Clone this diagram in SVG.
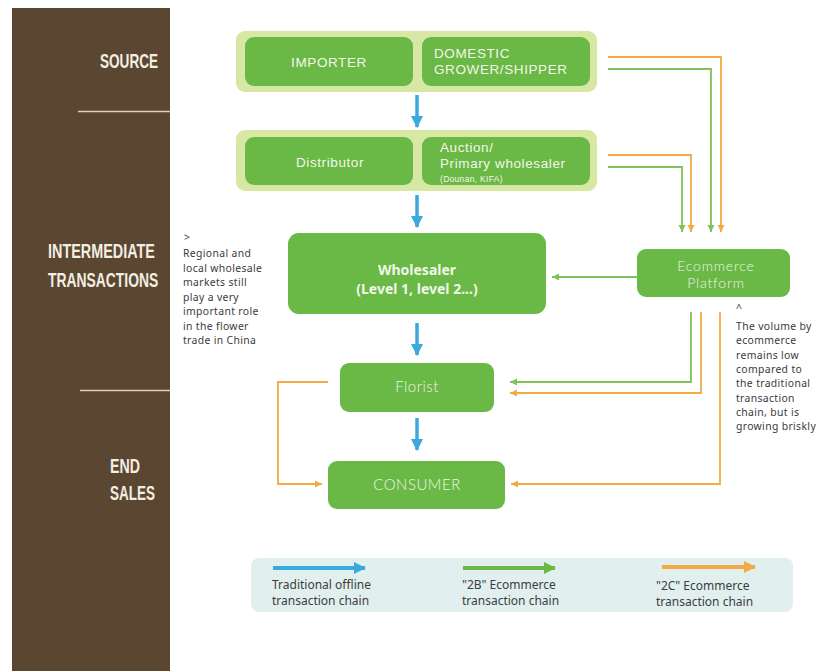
<svg xmlns="http://www.w3.org/2000/svg" width="832" height="671" viewBox="0 0 832 671">
<defs>
<style>
.hdr{font-family:"Liberation Sans",Arial,sans-serif;font-size:21px;font-weight:bold;fill:#f3eee2}
.box{fill:#6ab845}
.outer{fill:#d6e8a4}
.bt{font-family:"Noto Sans","Open Sans",sans-serif;font-size:13.5px;fill:#f2f7ea}
.bt2{font-family:"Liberation Sans",Arial,sans-serif;font-size:13.5px;letter-spacing:0.6px;fill:#f2f7ea}
.lt{font-family:Lato,"Open Sans",sans-serif;font-weight:300;font-size:15px;letter-spacing:0.5px;fill:#eef6e6}
.note{font-family:"Noto Sans","Open Sans",sans-serif;font-size:10.4px;letter-spacing:0.35px;fill:#3a3a3a}
.leg{font-family:"Noto Sans","Open Sans",sans-serif;font-size:12px;fill:#3d3d3d}
.blue{stroke:#3aa9dd;stroke-width:3.5;fill:none}
.grn{stroke:#82c05a;stroke-width:1.8;fill:none}
.org{stroke:#f2aa45;stroke-width:1.8;fill:none}
</style>
<marker id="mb" markerUnits="userSpaceOnUse" markerWidth="14" markerHeight="14" refX="11" refY="7" orient="auto"><path d="M0,1 L12,7 L0,13 z" fill="#3aa9dd"/></marker>
<marker id="mg" markerUnits="userSpaceOnUse" markerWidth="8" markerHeight="8" refX="7" refY="4" orient="auto"><path d="M0,0.5 L7,4 L0,7.5 z" fill="#82c05a"/></marker>
<marker id="mo" markerUnits="userSpaceOnUse" markerWidth="8" markerHeight="8" refX="7" refY="4" orient="auto"><path d="M0,0.5 L7,4 L0,7.5 z" fill="#f2aa45"/></marker>
<marker id="mgL" markerUnits="userSpaceOnUse" markerWidth="14" markerHeight="14" refX="11" refY="7" orient="auto"><path d="M0,1 L12,7 L0,13 z" fill="#6ab845"/></marker>
<marker id="moL" markerUnits="userSpaceOnUse" markerWidth="14" markerHeight="14" refX="11" refY="7" orient="auto"><path d="M0,1 L12,7 L0,13 z" fill="#f2aa45"/></marker>
</defs>
<rect width="832" height="671" fill="#ffffff"/>
<g id="sidebar">
<rect x="12" y="8" width="158" height="663" fill="#5b4632"/>
<line x1="78" y1="111.5" x2="170" y2="111.5" stroke="#d9d2c4" stroke-width="1.5"/>
<line x1="80" y1="390.5" x2="170" y2="390.5" stroke="#d9d2c4" stroke-width="1.5"/>
<text class="hdr" transform="translate(100,68) scale(0.66,1)" x="0" y="0" textLength="88" lengthAdjust="spacingAndGlyphs">SOURCE</text>
<text class="hdr" transform="translate(48,258) scale(0.66,1)" x="0" y="0" textLength="162" lengthAdjust="spacingAndGlyphs">INTERMEDIATE</text>
<text class="hdr" transform="translate(48,287) scale(0.66,1)" x="0" y="0" textLength="167" lengthAdjust="spacingAndGlyphs">TRANSACTIONS</text>
<text class="hdr" transform="translate(110,473) scale(0.66,1)" x="0" y="0" textLength="45.5" lengthAdjust="spacingAndGlyphs">END</text>
<text class="hdr" transform="translate(110,500) scale(0.66,1)" x="0" y="0" textLength="68" lengthAdjust="spacingAndGlyphs">SALES</text>
</g>
<g id="source-group">
<rect class="outer" x="236" y="31" width="361" height="61" rx="9"/>
</g>
<g id="importer">
<rect class="box" x="245" y="37" width="168" height="49" rx="9"/>
<text class="bt2" x="329" y="67" text-anchor="middle">IMPORTER</text>
</g>
<g id="domestic">
<rect class="box" x="422" y="37" width="168" height="49" rx="9"/>
<text class="bt2"><tspan x="434" y="58">DOMESTIC</tspan><tspan x="434" y="74">GROWER/SHIPPER</tspan></text>
</g>
<g id="mid-group">
<rect class="outer" x="236" y="130" width="361" height="61" rx="9"/>
</g>
<g id="distributor">
<rect class="box" x="245" y="137" width="168" height="48" rx="9"/>
<text class="bt2" x="330" y="167" text-anchor="middle">Distributor</text>
</g>
<g id="auction">
<rect class="box" x="422" y="137" width="168" height="48" rx="9"/>
<text class="bt2"><tspan x="440" y="152">Auction/</tspan><tspan x="440" y="168">Primary wholesaler</tspan><tspan x="440" y="182" style="font-size:8.5px;letter-spacing:0.3px">(Dounan, KIFA)</tspan></text>
</g>
<g id="wholesaler">
<rect class="box" x="288" y="233" width="258" height="81" rx="11"/>
<text class="bt" text-anchor="middle" style="font-weight:bold;font-size:14px"><tspan x="417" y="275">Wholesaler</tspan><tspan x="417" y="294">(Level 1, level 2...)</tspan></text>
</g>
<g id="ecommerce">
<rect class="box" x="637" y="249" width="153" height="48" rx="9"/>
<text class="lt" text-anchor="middle" style="font-size:14px;letter-spacing:0.8px"><tspan x="716" y="271">Ecommerce</tspan><tspan x="716" y="288">Platform</tspan></text>
</g>
<g id="florist">
<rect class="box" x="340" y="363" width="154" height="49" rx="9"/>
<text class="lt" x="417" y="392" text-anchor="middle">Florist</text>
</g>
<g id="consumer">
<rect class="box" x="328" y="461" width="177" height="48" rx="9"/>
<text class="lt" x="417" y="490" text-anchor="middle">CONSUMER</text>
</g>
<g id="notes">
<text class="note"><tspan x="184" y="241">&gt;</tspan><tspan x="183" y="257">Regional and</tspan><tspan x="183" y="271.5">local wholesale</tspan><tspan x="183" y="286">markets still</tspan><tspan x="183" y="300.5">play a very</tspan><tspan x="183" y="315">important role</tspan><tspan x="183" y="329.5">in the flower</tspan><tspan x="183" y="344">trade in China</tspan></text>
<text class="note"><tspan x="736" y="312">^</tspan><tspan x="736" y="330">The volume by</tspan><tspan x="736" y="344.3">ecommerce</tspan><tspan x="736" y="358.6">remains low</tspan><tspan x="736" y="372.9">compared to</tspan><tspan x="736" y="387.2">the traditional</tspan><tspan x="736" y="401.5">transaction</tspan><tspan x="736" y="415.8">chain, but is</tspan><tspan x="736" y="430.1">growing briskly</tspan></text>
</g>
<g id="connectors">
<line class="blue" x1="417" y1="95" x2="417" y2="127" marker-end="url(#mb)"/>
<line class="blue" x1="417" y1="195" x2="417" y2="227" marker-end="url(#mb)"/>
<line class="blue" x1="417" y1="323" x2="417" y2="355" marker-end="url(#mb)"/>
<line class="blue" x1="417" y1="418" x2="417" y2="450" marker-end="url(#mb)"/>
<polyline class="org" points="608,57 721,57 721,232" marker-end="url(#mo)"/>
<polyline class="grn" points="608,69 711,69 711,232" marker-end="url(#mg)"/>
<polyline class="org" points="608,155 691,155 691,232" marker-end="url(#mo)"/>
<polyline class="grn" points="608,167 682,167 682,232" marker-end="url(#mg)"/>
<line class="grn" x1="637" y1="277" x2="552" y2="277" marker-end="url(#mg)"/>
<polyline class="grn" points="691,312 691,382 510,382" marker-end="url(#mg)"/>
<polyline class="org" points="701,312 701,393 510,393" marker-end="url(#mo)"/>
<polyline class="org" points="720,312 720,484 511,484" marker-end="url(#mo)"/>
<polyline class="org" points="328,382 278,382 278,484 322,484" marker-end="url(#mo)"/>
</g>
<g id="legend">
<rect x="251" y="558" width="542" height="54" rx="8" fill="#e1f0ee"/>
<line x1="273" y1="568" x2="365" y2="568" stroke="#3aa9dd" stroke-width="4" marker-end="url(#mb)"/>
<line x1="463" y1="568" x2="555" y2="568" stroke="#6ab845" stroke-width="4" marker-end="url(#mgL)"/>
<line x1="662" y1="567" x2="755" y2="567" stroke="#f2aa45" stroke-width="4" marker-end="url(#moL)"/>
<text class="leg"><tspan x="272" y="589">Traditional offline</tspan><tspan x="272" y="605">transaction chain</tspan></text>
<text class="leg"><tspan x="462" y="589">"2B" Ecommerce</tspan><tspan x="462" y="605">transaction chain</tspan></text>
<text class="leg"><tspan x="656" y="590">"2C" Ecommerce</tspan><tspan x="656" y="606">transaction chain</tspan></text>
</g>
</svg>
